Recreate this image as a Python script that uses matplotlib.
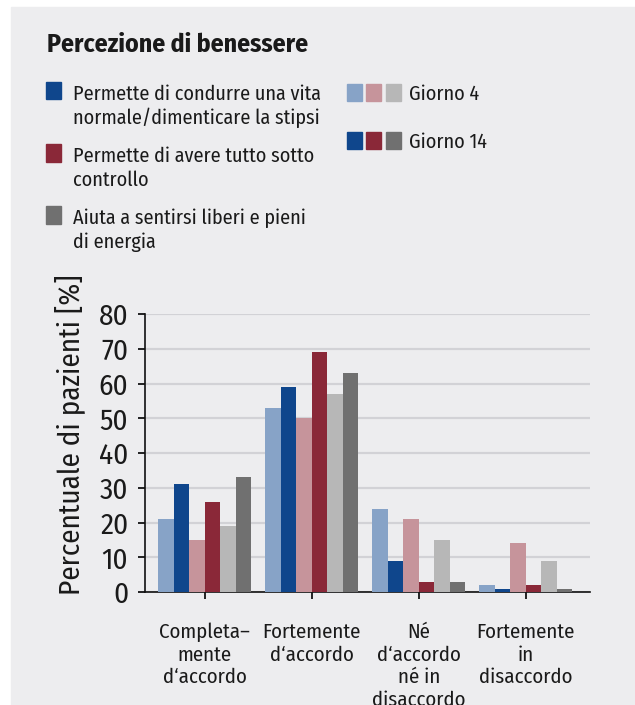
import matplotlib.pyplot as plt
from matplotlib.patches import Rectangle
import numpy as np

# Dati
categorie = ["Completa–\nmente\nd‘accordo", "Fortemente\nd‘accordo",
             "Né\nd‘accordo\nné in\ndisaccordo", "Fortemente\nin\ndisaccordo"]
vita_g4 = [21, 53, 24, 2]
vita_g14 = [31, 59, 9, 1]
controllo_g4 = [15, 50, 21, 14]
controllo_g14 = [26, 69, 3, 2]
energia_g4 = [19, 57, 15, 9]
energia_g14 = [33, 63, 3, 1]

serie = [vita_g4, vita_g14, controllo_g4, controllo_g14, energia_g4, energia_g14]
colori = ['#87a3c7', '#0f468c', '#c6949b', '#8a2838', '#b7b7b7', '#707070']

legenda_voci = [("Permette di condurre una vita", "normale/dimenticare la stipsi"),
                ("Permette di avere tutto sotto", "controllo"),
                ("Aiuta a sentirsi liberi e pieni", "di energia")]

plt.rcParams['font.family'] = ['Fira Sans Condensed', 'DejaVu Sans']

W, H = 635, 705
sfondo = '#ededef'
testo = '#1a1a1a'

fig = plt.figure(figsize=(W / 100, H / 100), dpi=100, facecolor='white')
fig.patches.append(Rectangle((11 / W, 0), 1 - 11 / W, 1 - 7 / H,
                             transform=fig.transFigure, color=sfondo, zorder=-10))

def px(x, y):
    return x / W, 1 - y / H

# Titolo
fig.text(*px(47, 52), "Percezione di benessere", fontsize=18.5, fontweight='bold',
         color=testo, va='baseline')

# Legenda manuale
quadrati_y = [(82, 99), (144, 162), (206, 224)]
colori_leg = ['#0f468c', '#8a2838', '#707070']
basi = [(100, 124), (162, 186), (224, 248)]
for (y0, y1), c, righe, b in zip(quadrati_y, colori_leg, legenda_voci, basi):
    fig.patches.append(Rectangle(px(46, y1), 15 / W, (y1 - y0) / H,
                                 transform=fig.transFigure, color=c))
    for riga, yb in zip(righe, b):
        fig.text(*px(73, yb), riga, fontsize=14.5, color=testo, va='baseline')

for (y0, y1), cols, lab in [((84, 101), colori[0::2], "Giorno 4"),
                            ((132, 149), colori[1::2], "Giorno 14")]:
    for x0, c in zip([347, 366, 386], cols):
        fig.patches.append(Rectangle(px(x0, y1), 15 / W, (y1 - y0) / H,
                                     transform=fig.transFigure, color=c))
    fig.text(*px(409, y1 - 1), lab, fontsize=14.5, color=testo, va='baseline')

# Grafico
ax = fig.add_axes([145 / W, 1 - 592 / H, (590 - 145) / W, (592 - 314) / H])
ax.set_facecolor(sfondo)
x = np.arange(len(categorie))
w = 0.145
for i, (vals, c) in enumerate(zip(serie, colori)):
    ax.bar(x + (i - 2.5) * w, vals, width=w, color=c, zorder=3)

ax.set_xlim(-0.56, 3.6)
ax.set_ylim(0, 80)
ax.set_yticks(range(0, 81, 10))
ax.set_xticks(x)
ax.set_xticklabels(categorie, fontsize=15, color=testo, linespacing=1.2)
ax.yaxis.grid(True, color='#d2d2d6', linewidth=1.6, zorder=0)
ax.set_axisbelow(True)
for s in ['top', 'right']:
    ax.spines[s].set_visible(False)
for s in ['left', 'bottom']:
    ax.spines[s].set_linewidth(1.2)
    ax.spines[s].set_color('#111111')
ax.tick_params(axis='y', length=5, width=1.2, pad=7, labelsize=21, labelcolor=testo)
ax.tick_params(axis='x', length=5, width=1.2, pad=17, labelcolor=testo)
ax.set_ylabel("Percentuale di pazienti [%]", fontsize=21, color=testo)
ax.yaxis.set_label_coords(-0.135, 0.565)

fig.savefig('out.png', dpi=100, facecolor='white')
